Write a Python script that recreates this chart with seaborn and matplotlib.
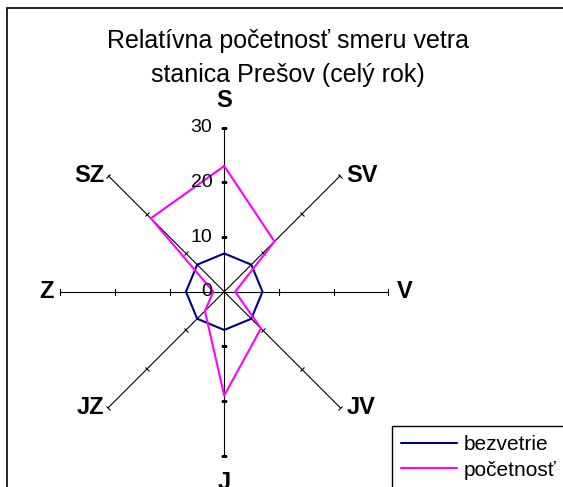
import numpy as np
import matplotlib
matplotlib.use("Agg")
import matplotlib.pyplot as plt
from matplotlib.markers import MarkerStyle
from matplotlib.transforms import Affine2D
import seaborn as sns

# smery vetra (v smere hodinovych ruciciek od severu)
smery = ['S', 'SV', 'V', 'JV', 'J', 'JZ', 'Z', 'SZ']
bezvetrie = [7, 7, 7, 7, 7, 7, 7, 7]
pocetnost = [23, 13, 2, 9.5, 19, 5, 2, 19]
stupnica = [0, 10, 20, 30]

sns.set_style("white")
plt.rcParams['font.family'] = ['Liberation Sans', 'DejaVu Sans']
plt.rcParams['text.color'] = 'black'

fig = plt.figure(figsize=(5.63, 4.87), dpi=100)
ax = fig.add_axes([0.0488, -0.003, 0.699, 0.808], projection='polar')
ax.set_theta_zero_location('N')
ax.set_theta_direction(-1)
ax.set_ylim(0, 36)
ax.axis('off')

uhly_deg = np.arange(len(smery)) * 360 / len(smery)
uhly = np.deg2rad(uhly_deg)
rmax = stupnica[-1]

# osi a znacky
for a_deg, t in zip(uhly_deg, uhly):
    ax.plot([t, t], [0, rmax], color='black', lw=0.8)
    znacka = MarkerStyle('_', transform=Affine2D().rotate_deg(-a_deg))
    ax.plot([t] * 3, stupnica[1:], linestyle='none', marker=znacka,
            ms=5, mew=0.8, color='black')

# popisy smerov
posuny = {
    'S': ((0, 19.5), 'center', 'center'),
    'SV': ((4.5, 0), 'left', 'center'),
    'V': ((6.5, 0), 'left', 'center'),
    'JV': ((4.5, 0), 'left', 'center'),
    'J': ((0, -19), 'center', 'center'),
    'JZ': ((-3, 0), 'right', 'center'),
    'Z': ((-4.5, 0), 'right', 'center'),
    'SZ': ((-3, 0), 'right', 'center'),
}
for t, smer in zip(uhly, smery):
    off, ha, va = posuny[smer]
    ax.annotate(smer, xy=(t, rmax), xytext=off, textcoords='offset points',
                ha=ha, va=va, fontsize=17, fontweight='bold')

# stupnica na severnej osi
for r in stupnica:
    ax.annotate(str(r), xy=(0, r), xytext=(-8.5, 0), textcoords='offset points',
                ha='right', va='center', fontsize=14)

uhly_z = list(uhly) + [uhly[0]]
sns.lineplot(x=uhly_z, y=bezvetrie + bezvetrie[:1], ax=ax, sort=False,
             estimator=None, color='#000080', lw=1.5, label='bezvetrie')
sns.lineplot(x=uhly_z, y=pocetnost + pocetnost[:1], ax=ax, sort=False,
             estimator=None, color='#FF00FF', lw=1.5, label='početnosť')

handles, labels = ax.get_legend_handles_labels()
ax.legend(handles, labels, loc='upper left', bbox_to_anchor=(392 / 563, 1 - 426 / 487),
          bbox_transform=fig.transFigure, borderaxespad=0, fontsize=15,
          frameon=True, fancybox=False, edgecolor='black', framealpha=1,
          handlelength=2.65, handletextpad=0.35, borderpad=0.45, labelspacing=0.3)
ax.get_legend().get_frame().set_linewidth(1.0)

fig.text(288 / 563, 1 - 48 / 487, 'Relatívna početnosť smeru vetra',
         ha='center', va='baseline', fontsize=18)
fig.text(288 / 563, 1 - 82 / 487, 'stanica Prešov (celý rok)',
         ha='center', va='baseline', fontsize=18)

ramik = plt.Rectangle((7 / 563, -0.1), 1.2, 1.1 - 8 / 487, transform=fig.transFigure,
                      fill=False, edgecolor='black', lw=1.2)
fig.patches.append(ramik)

fig.savefig('out.png', dpi=100)
